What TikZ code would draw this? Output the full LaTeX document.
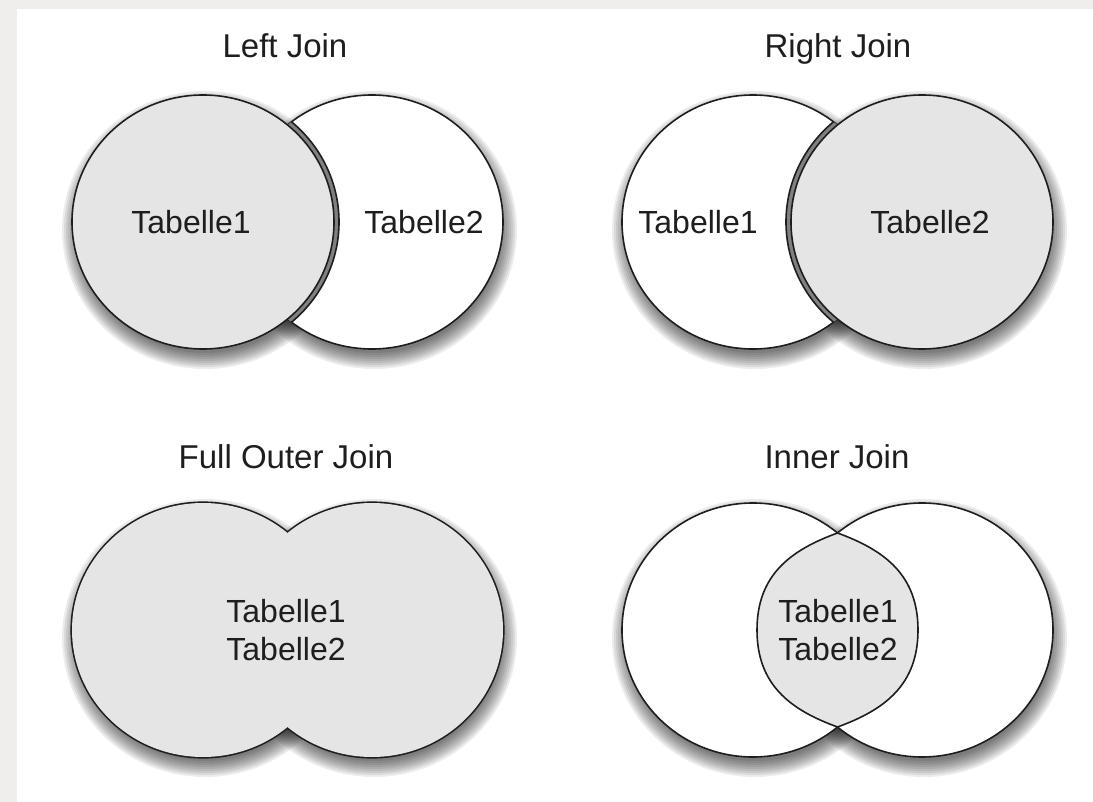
\documentclass[tikz,border=0pt]{standalone}
\usepackage{fontspec}
\setmainfont{Liberation Sans}
\definecolor{bgframe}{HTML}{EFEEEC}
\definecolor{vennfill}{HTML}{E5E5E5}
\definecolor{ringgray}{HTML}{808080}
\definecolor{ink}{HTML}{1E1E1E}
\tikzset{
  vennline/.style={draw=ink, line width=1.6pt},
  titletext/.style={font=\fontsize{33}{40}\selectfont, text=ink, anchor=base, inner sep=0pt},
  labeltext/.style={font=\fontsize{32}{38}\selectfont, text=ink, inner sep=0pt, anchor=base},
  ell/.style={x radius=131, y radius=127},
}
\newcommand{\vennshadow}[1]{%
  \foreach \dd in {12,10,...,-4}{%
    \fill[black, opacity=0.075, shift={(#1)}] (2,8) ellipse [x radius=131+\dd, y radius=127+\dd];
  }%
}
\begin{document}
\begin{tikzpicture}[x=1pt, y=-1pt]
\useasboundingbox (0,0) rectangle (1093,802);
\fill[bgframe] (0,0) rectangle (1093,802);
\fill[white] (17,9) rectangle (1093,802);

% centres
\coordinate (LJa) at (203,222);
\coordinate (LJb) at (372,222);
\coordinate (RJa) at (753,222);
\coordinate (RJb) at (922,222);
\coordinate (FJa) at (203,630);
\coordinate (FJb) at (372,630);
\coordinate (IJa) at (753,630);
\coordinate (IJb) at (922,630);

% ---------- Left Join ----------
\vennshadow{LJa}\vennshadow{LJb}
\filldraw[fill=white, vennline] (LJb) ellipse [ell];
\begin{scope}
  \clip (LJb) ellipse [ell];
  \filldraw[fill=ringgray, vennline] (LJa) ellipse [x radius=136, y radius=132];
\end{scope}
\filldraw[fill=vennfill, vennline] (LJa) ellipse [ell];
\node[titletext] (tLJ) at (285,58) {Left Join};
\node[labeltext] (LJ1) at (191,234) {Tabelle1};
\node[labeltext] (LJ2) at (424,234) {Tabelle2};

% ---------- Right Join ----------
\vennshadow{RJa}\vennshadow{RJb}
\filldraw[fill=white, vennline] (RJa) ellipse [ell];
\begin{scope}
  \clip (RJa) ellipse [ell];
  \filldraw[fill=ringgray, vennline] (RJb) ellipse [x radius=136, y radius=132];
\end{scope}
\filldraw[fill=vennfill, vennline] (RJb) ellipse [ell];
\node[titletext] (tRJ) at (838,58) {Right Join};
\node[labeltext] (RJ1) at (698,234) {Tabelle1};
\node[labeltext] (RJ2) at (930,234) {Tabelle2};

% ---------- Full Outer Join ----------
\vennshadow{FJa}\vennshadow{FJb}
\draw[draw=ink, line width=3.2pt] (FJa) ellipse [ell] (FJb) ellipse [ell];
\fill[vennfill] (FJa) ellipse [ell];
\fill[vennfill] (FJb) ellipse [ell];
\node[titletext] (tFJ) at (286,468) {Full Outer Join};
\node[labeltext] (FJ1) at (286,622) {Tabelle1};
\node[labeltext] (FJ2) at (286,660) {Tabelle2};

% ---------- Inner Join ----------
\vennshadow{IJa}\vennshadow{IJb}
\filldraw[fill=white, vennline] (IJa) ellipse [ell];
\filldraw[fill=white, vennline] (IJb) ellipse [ell];
\coordinate (lensT) at (837.5,533);
\coordinate (lensB) at (837.5,727);
\coordinate (lensL) at (757,630);
\coordinate (lensR) at (918,630);
\filldraw[fill=vennfill, vennline]
  (lensT) .. controls (790.5,550.1) and (757,575) .. (lensL)
          .. controls (757,685) and (790.5,709.9) .. (lensB)
          .. controls (884.5,709.9) and (918,685) .. (lensR)
          .. controls (918,575) and (884.5,550.1) .. (lensT) -- cycle;
\node[titletext] (tIJ) at (837,468) {Inner Join};
\node[labeltext] (IJ1) at (838,622) {Tabelle1};
\node[labeltext] (IJ2) at (838,660) {Tabelle2};
\end{tikzpicture}
\end{document}
